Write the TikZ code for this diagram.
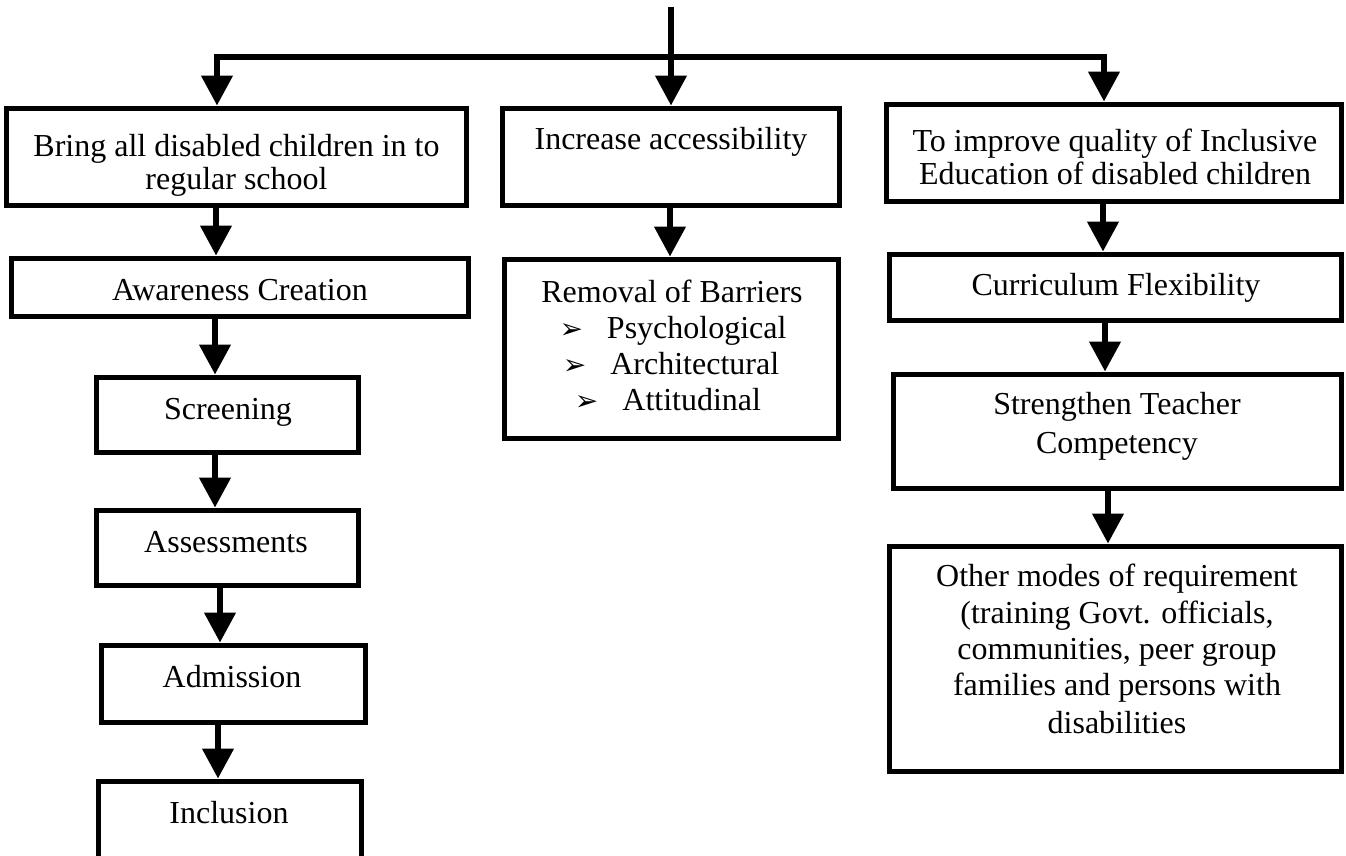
\documentclass[tikz,border=0pt]{standalone}
\usepackage{fontspec}
\setmainfont{Liberation Serif}
\newfontfamily\symf{DejaVu Sans}
\usetikzlibrary{arrows.meta}
\begin{document}
\begin{tikzpicture}[x=0.5pt,y=-0.5pt,
  box/.style={draw, line width=2.8pt, rectangle, inner sep=0pt},
  lbl/.style={anchor=base, inner sep=0pt, font=\fontsize{16}{18.4}\selectfont},
  arr/.style={line width=3.4pt, -{Triangle[width=15pt,length=15pt]}},
  link/.style={line width=3.2pt}]
\useasboundingbox (0,0) rectangle (1346,856);
\fill[white] (0,0) rectangle (1346,856);

% boxes
\node[box, minimum width=230pt, minimum height=48.5pt] (b1) at (236.5,157) {};
\node[box, minimum width=168.5pt, minimum height=48.5pt] (b2) at (671,157) {};
\node[box, minimum width=227.5pt, minimum height=48.5pt] (b3) at (1114,153) {};
\node[box, minimum width=228.5pt, minimum height=29pt] (aw) at (240,287.5) {};
\node[box, minimum width=167pt, minimum height=89.5pt] (rm) at (671.5,349) {};
\node[box, minimum width=226pt, minimum height=33pt] (cf) at (1115.5,287.5) {};
\node[box, minimum width=131pt, minimum height=37.5pt] (sc) at (227.5,415) {};
\node[box, minimum width=131pt, minimum height=37.5pt] (as) at (227.5,548) {};
\node[box, minimum width=132pt, minimum height=38.5pt] (ad) at (233.5,684) {};
\node[box, minimum width=131.5pt, minimum height=73.5pt] (in) at (230,855) {};
\node[box, minimum width=224pt, minimum height=57pt] (st) at (1117.5,431.5) {};
\node[box, minimum width=226pt, minimum height=112.5pt] (ot) at (1115.5,659) {};

% texts
\node[lbl] (t1a) at (236.5,157) {Bring all disabled children in to};
\node[lbl] (t1b) at (236.5,190) {regular school};
\node[lbl] (t2) at (671,150) {Increase accessibility};
\node[lbl] (t3a) at (1115,152) {To improve quality of Inclusive};
\node[lbl] (t3b) at (1115,185) {Education of disabled children};
\node[lbl] (taw) at (240,300) {Awareness Creation};
\node[lbl] (r1) at (672,302) {Removal of Barriers};
\node[lbl] (r2) at (673,338) {{\symf\fontsize{14}{14}\selectfont ➢}\hspace{12pt}Psychological};
\node[lbl] (r3) at (671,374) {{\symf\fontsize{14}{14}\selectfont ➢}\hspace{12pt}Architectural};
\node[lbl] (r4) at (668,410) {{\symf\fontsize{14}{14}\selectfont ➢}\hspace{12pt}Attitudinal};
\node[lbl] (tcf) at (1116,296) {Curriculum Flexibility};
\node[lbl] (tsc) at (228,419) {Screening};
\node[lbl] (tas) at (226,552) {Assessments};
\node[lbl] (tad) at (232,687) {Admission};
\node[lbl] (tin) at (229,823) {Inclusion};
\node[lbl] (tsta) at (1117,415) {Strengthen Teacher};
\node[lbl] (tstb) at (1117,453) {Competency};
\node[lbl] (toa) at (1117,586) {Other modes of requirement};
\node[lbl] (tob) at (1117,623) {(training Govt. officials,};
\node[lbl] (toc) at (1117,659) {communities, peer group};
\node[lbl] (tod) at (1117,695) {families and persons with};
\node[lbl] (toe) at (1117,733) {disabilities};

% connector coordinates
\coordinate (top) at (671,7);
\coordinate (jM) at (671,57);
\coordinate (jL) at (217,57);
\coordinate (jR) at (1104,57);
\coordinate (xa) at (216,0);
\coordinate (xb) at (215,0);
\coordinate (xc) at (215,0);
\coordinate (xd) at (220,0);
\coordinate (xe) at (218,0);
\coordinate (xm) at (670,0);
\coordinate (xr1) at (1103,0);
\coordinate (xr2) at (1105,0);
\coordinate (xr3) at (1108,0);

% connectors
\draw[link] (top) -- (jM);
\draw[link, line cap=rect] (jL) -- (jR);
\draw[arr] (jL) -- (b1.north -| jL);
\draw[arr] (jM) -- (b2.north -| jM);
\draw[arr] (jR) -- (b3.north -| jR);
\draw[arr] (b1.south -| xa) -- (aw.north -| xa);
\draw[arr] (aw.south -| xb) -- (sc.north -| xb);
\draw[arr] (sc.south -| xc) -- (as.north -| xc);
\draw[arr] (as.south -| xd) -- (ad.north -| xd);
\draw[arr] (ad.south -| xe) -- (in.north -| xe);
\draw[arr] (b2.south -| xm) -- (rm.north -| xm);
\draw[arr] (b3.south -| xr1) -- (cf.north -| xr1);
\draw[arr] (cf.south -| xr2) -- (st.north -| xr2);
\draw[arr] (st.south -| xr3) -- (ot.north -| xr3);
\end{tikzpicture}
\end{document}
